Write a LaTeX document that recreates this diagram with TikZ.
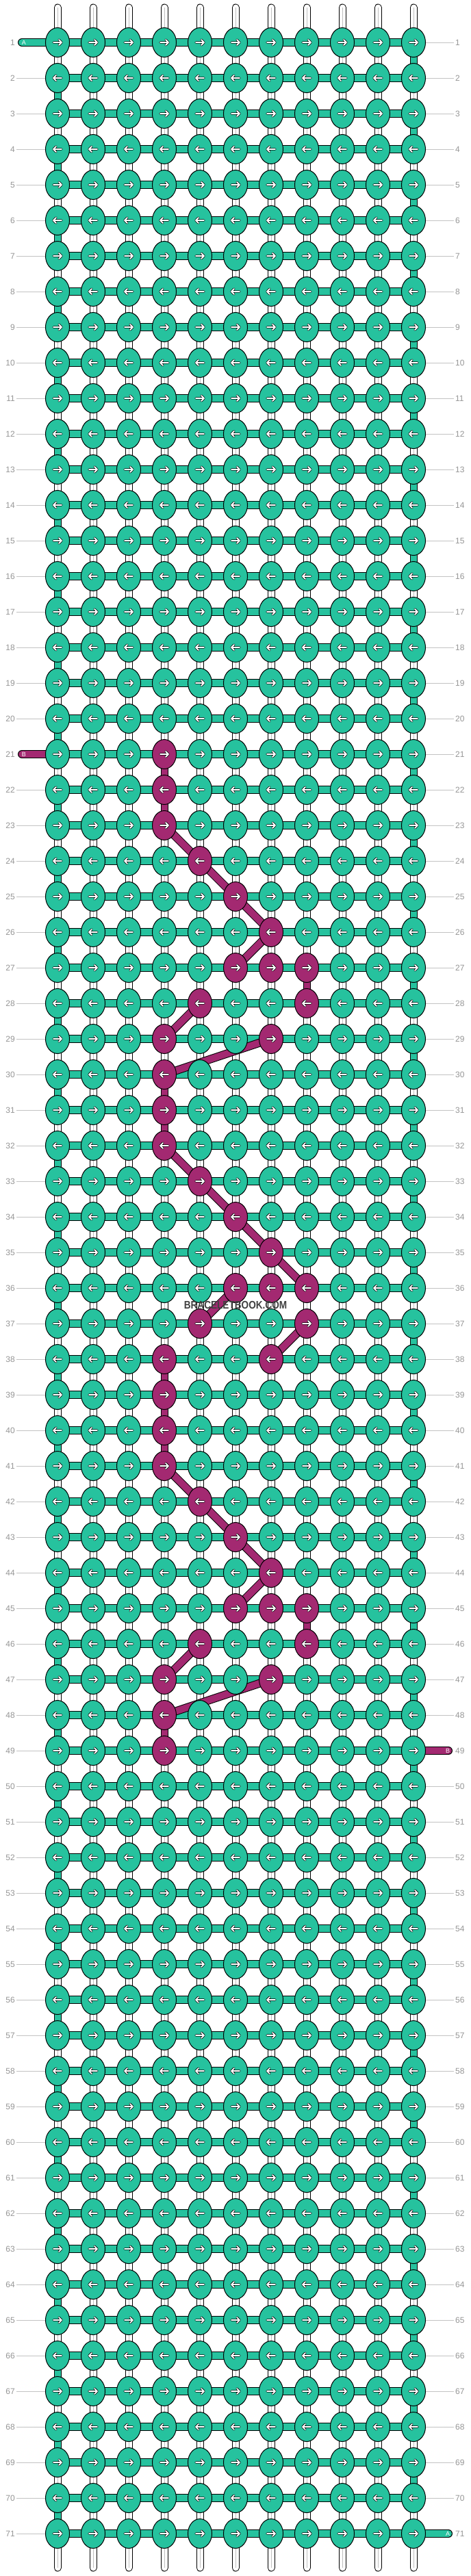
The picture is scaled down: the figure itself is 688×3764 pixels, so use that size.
\documentclass[tikz,border=0pt]{standalone}
\usepackage{fontspec}
\setmainfont{Liberation Sans}
\usetikzlibrary{shapes.geometric}
\usetikzlibrary{backgrounds}
\usetikzlibrary{positioning}

\definecolor{knotgreen}{RGB}{38,194,158}
\definecolor{knotpink}{RGB}{163,41,113}
\definecolor{labelgray}{RGB}{150,150,150}
\definecolor{linegray}{RGB}{195,195,195}
\def\wfill{white}

\tikzset{
  knot/.style={ellipse,draw=black,line width=1pt,minimum width=35pt,minimum height=43pt,inner sep=0pt},
  rowlabel/.style={text=labelgray,font=\fontsize{12}{12}\selectfont,inner sep=2pt},
  rowline/.style={draw=linegray,line width=1pt},
  stubtext/.style={text=white,font=\fontsize{9}{9}\selectfont,inner sep=1pt},
  midline/.style={draw=black!25,line width=1pt},
  pics/knotarrow/.style={code={
    \draw[line width=3.4pt,line cap=round,line join=round] (-6,0) -- (6,0) (2,-4) -- (6,0) -- (2,4);
    \draw[white,line width=1.8pt,line cap=round,line join=round] (-6,0) -- (6,0) (2,-4) -- (6,0) -- (2,4);
  }}
}

\begin{document}
\begin{tikzpicture}[x=1pt,y=-1pt]
  \useasboundingbox (0,0) rectangle (688,3764);
  % pink knots and pink vertical pieces
  \foreach \r/\c in {21/4,22/4,23/4,24/5,25/6,26/7,27/6,27/7,27/8,28/5,28/8,29/4,29/7,30/4,
                     31/4,32/4,33/5,34/6,35/7,36/6,36/7,36/8,37/5,37/8,38/4,38/7,39/4,40/4,
                     41/4,42/5,43/6,44/7,45/6,45/7,45/8,46/5,46/8,47/4,47/7,48/4,49/4}
    {\expandafter\gdef\csname pk\r-\c\endcsname{}}
  \foreach \r/\c in {21/4,22/4,27/8,30/4,31/4,38/4,39/4,40/4,45/8,48/4}
    {\expandafter\gdef\csname pv\r-\c\endcsname{}}

  % Place knots
  \foreach \r in {1,...,71}{
    \pgfmathtruncatemacro\dir{mod(\r,2)==1 ? 1 : -1}
    \foreach \c in {1,...,11}{
      \ifcsname pk\r-\c\endcsname\def\kfill{knotpink}\else\def\kfill{knotgreen}\fi
      \node[knot,fill=\kfill] (k-\r-\c) at ({32+52*\c},{10+52*\r}) {};
      \pic[xscale=\dir] at (k-\r-\c) {knotarrow};
    }
  }

  % row numbers
  \foreach \r in {1,...,71}{
    \node[rowlabel,anchor=east] (ll-\r) at (24,{10+52*\r}) {\r};
    \node[rowlabel,anchor=west] (rl-\r) at (663,{10+52*\r}) {\r};
  }

  % strand ends
  \node[stubtext] (a-in) at (35,62) {A};
  \node[stubtext] (b-in) at (35,1102) {B};
  \node[stubtext] (b-out) at (654,2558) {B};
  \node[stubtext] (a-out) at (654,3702) {A};

  \node[text=black!75,font=\fontsize{16}{16}\selectfont\bfseries,xscale=0.85,inner sep=0pt] (wm) at (344,1907) {BRACELETBOOK.COM};

  \begin{scope}[on background layer]
    \fill[white] (0,0) rectangle (688,3764);
    % guide lines
    \foreach \r in {1,...,71}{
      \ifnum\r=1 \else\ifnum\r=21 \else
        \draw[rowline] (ll-\r.east) -- (k-\r-1.west);
      \fi\fi
      \ifnum\r=49 \else\ifnum\r=71 \else
        \draw[rowline] (k-\r-11.east) -- (rl-\r.west);
      \fi\fi
    }
    % top and bottom threads
    \foreach \c in {1,...,11}{
      \coordinate (t-\c) at ({32+52*\c},11);
      \coordinate (b-\c) at ({32+52*\c},3752);
      \draw[line width=11pt,line cap=round] (t-\c) -- (k-1-\c.center);
      \draw[white,line width=9pt,line cap=round] (t-\c) -- (k-1-\c.center);
      \draw[midline] (t-\c) -- (k-1-\c.center);
      \draw[line width=11pt,line cap=round] (k-71-\c.center) -- (b-\c);
      \draw[white,line width=9pt,line cap=round] (k-71-\c.center) -- (b-\c);
      \draw[midline] (k-71-\c.center) -- (b-\c);
    }
    % vertical pieces
    \foreach \r in {1,...,70}{
      \pgfmathtruncatemacro\rn{\r+1}
      \foreach \c in {1,...,11}{
        \pgfmathtruncatemacro\turn{(\c==11)*(mod(\r,2)==1)+(\c==1)*(mod(\r,2)==0)}
        \ifcsname pv\r-\c\endcsname\def\sfill{knotpink}\else
          \ifnum\turn=1 \def\sfill{knotgreen}\else\def\sfill{white}\fi\fi
        \draw[line width=11pt] (k-\r-\c.center) -- (k-\rn-\c.center);
        \draw[\sfill,line width=9pt] (k-\r-\c.center) -- (k-\rn-\c.center);
        \ifx\sfill\wfill \draw[midline] (k-\r-\c.center) -- (k-\rn-\c.center); \fi
      }
    }
    % rows
    \foreach \r in {1,...,71}{
      \draw[line width=12pt] (k-\r-1.center) -- (k-\r-11.center);
      \draw[knotgreen,line width=10pt] (k-\r-1.center) -- (k-\r-11.center);
    }
    \draw[line width=12pt,line cap=round,shorten <=-3pt] (a-in.center) -- (k-1-1.center);
    \draw[knotgreen,line width=10pt,line cap=round,shorten <=-3pt] (a-in.center) -- (k-1-1.center);
    \draw[line width=12pt,line cap=round,shorten <=-3pt] (b-in.center) -- (k-21-1.center);
    \draw[knotpink,line width=10pt,line cap=round,shorten <=-3pt] (b-in.center) -- (k-21-1.center);
    \draw[line width=12pt,line cap=round,shorten >=-1pt] (k-49-11.center) -- (b-out.center);
    \draw[knotpink,line width=10pt,line cap=round,shorten >=-1pt] (k-49-11.center) -- (b-out.center);
    \draw[line width=12pt,line cap=round,shorten >=-1pt] (k-71-11.center) -- (a-out.center);
    \draw[knotgreen,line width=10pt,line cap=round,shorten >=-1pt] (k-71-11.center) -- (a-out.center);
    % pink diagonals
    \foreach \ra/\ca/\rb/\cb in {23/4/24/5,24/5/25/6,25/6/26/7,26/7/27/6,28/5/29/4,29/7/30/4,
                                 32/4/33/5,33/5/34/6,34/6/35/7,35/7/36/8,36/6/37/5,37/8/38/7,
                                 41/4/42/5,42/5/43/6,43/6/44/7,44/7/45/6,46/5/47/4,47/7/48/4}{
      \draw[line width=12pt] (k-\ra-\ca.center) -- (k-\rb-\cb.center);
      \draw[knotpink,line width=10pt] (k-\ra-\ca.center) -- (k-\rb-\cb.center);
    }
  \end{scope}
\end{tikzpicture}
\end{document}
